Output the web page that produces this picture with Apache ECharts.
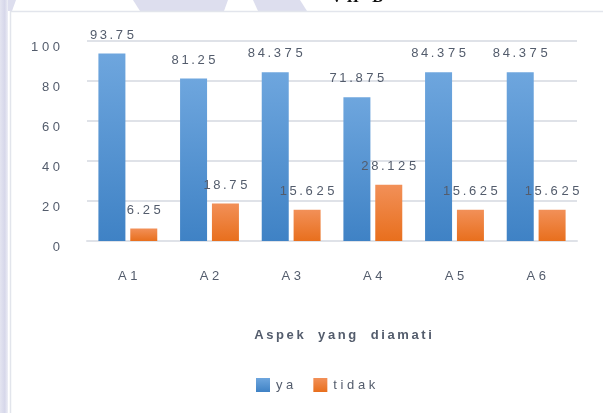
<!DOCTYPE html>
<html>
<head>
<meta charset="utf-8">
<script src="https://cdn.jsdelivr.net/npm/echarts@6/dist/echarts.min.js"></script>
<style>html,body{margin:0;padding:0;background:#fff;}#c{width:603px;height:413px;}</style>
</head>
<body>
<div id="c"></div>
<script>
// ---- data ----
const categories = ['A1', 'A2', 'A3', 'A4', 'A5', 'A6'];
const yaValues = [93.75, 81.25, 84.375, 71.875, 84.375, 84.375];
const tidakValues = [6.25, 18.75, 15.625, 28.125, 15.625, 15.625];
const yTicks = [0, 20, 40, 60, 80, 100];
const seriesNames = ['ya', 'tidak'];
const axisTitle = 'Aspek yang diamati';
const chartTitle = 'VII-B';

// ---- helpers (visual letter spacing as in the scanned reference) ----
const TS = '\u2009';
function spaced(s) { return String(s).split('').join(' '); }
function valueLabel(v) {
  const s = String(v);
  const i = s.indexOf('.');
  if (i < 0) return s;
  const head = s.slice(0, i + 2).split('').join(TS);
  const tail = s.slice(i + 2).split('').join(' ');
  return tail ? head + ' ' + tail : head;
}
function titleText(t) { return t.split(' ').map(w => w.split('').join(TS)).join('    '); }

const txt = '#535c6c';
const font = 'Liberation Sans';
const chart = echarts.init(document.getElementById('c'), null, {renderer: 'canvas'});

const blueGrad = new echarts.graphic.LinearGradient(0, 0, 0, 1, [
  {offset: 0, color: '#6ea6de'}, {offset: 1, color: '#3f82c5'}]);
const orangeGrad = new echarts.graphic.LinearGradient(0, 0, 0, 1, [
  {offset: 0, color: '#f29058'}, {offset: 1, color: '#e86f1d'}]);

const labelCfg = {
  show: true, position: 'top', distance: 12,
  color: txt, fontFamily: font, fontSize: 13,
  formatter: p => valueLabel(p.value)
};

chart.setOption({
  animation: false,
  backgroundColor: '#ffffff',
  graphic: [
    {type: 'polygon', shape: {points: [[0,0],[16,0],[12,11],[0,11]]}, style: {fill: '#dddeee'}, silent: true},
    {type: 'rect', shape: {x: 0, y: 0, width: 8, height: 413},
      style: {fill: new echarts.graphic.LinearGradient(0,0,1,0,[{offset:0,color:'#e4e5f1'},{offset:0.6,color:'#d6d7ea'},{offset:1,color:'#eeeff6'}])}, silent: true},
    {type: 'polygon', shape: {points: [[133,0],[228,0],[224,11],[140,11]]}, style: {fill: '#dddeee'}, silent: true},
    {type: 'polygon', shape: {points: [[253,0],[300,0],[307,11],[258,11]]}, style: {fill: '#dddeee'}, silent: true},
    {type: 'line', shape: {x1: 10, y1: 11.5, x2: 603, y2: 11.5}, style: {stroke: '#e2e5ec', lineWidth: 1.5}, silent: true},
    {type: 'line', shape: {x1: 10.5, y1: 11, x2: 10.5, y2: 413}, style: {stroke: '#e2e5ec', lineWidth: 1.5}, silent: true},
    {type: 'text', left: 331, top: -10, style: {text: 'V II - B', font: 'bold 16px "Liberation Serif"', fill: '#111'}, silent: true}
  ],
  grid: {left: 87, right: 26, top: 41, bottom: 172, containLabel: false},
  legend: {
    data: seriesNames, left: 251, top: 373, itemWidth: 14, itemHeight: 14, itemGap: 20,
    icon: 'rect',
    formatter: n => spaced(n),
    textStyle: {color: txt, fontFamily: font, fontSize: 13, padding: [7, 0, 0, 1]}
  },
  xAxis: {
    type: 'category', data: categories,
    axisLine: {show: true, lineStyle: {color: '#dfe2e8', width: 2}},
    axisTick: {show: false},
    axisLabel: {color: txt, fontFamily: font, fontSize: 13, margin: 29, formatter: v => spaced(v)},
    name: titleText(axisTitle), nameLocation: 'middle', nameGap: 88,
    nameTextStyle: {color: txt, fontFamily: font, fontWeight: 'bold', fontSize: 13, padding: [0, 0, 0, 22]}
  },
  yAxis: {
    type: 'value', min: yTicks[0], max: yTicks[yTicks.length - 1], interval: 20,
    axisLine: {show: false}, axisTick: {show: false},
    splitLine: {lineStyle: {color: '#dfe2e8', width: 2}},
    axisLabel: {color: txt, fontFamily: font, fontSize: 13, margin: 27,
      verticalAlign: 'top', formatter: v => spaced(v)}
  },
  series: [
    {name: seriesNames[0], type: 'bar', data: yaValues, barWidth: 27, barGap: '18%',
      itemStyle: {color: blueGrad}, label: labelCfg},
    {name: seriesNames[1], type: 'bar', data: tidakValues, barWidth: 27,
      itemStyle: {color: orangeGrad}, label: labelCfg}
  ]
});
</script>
</body>
</html>
